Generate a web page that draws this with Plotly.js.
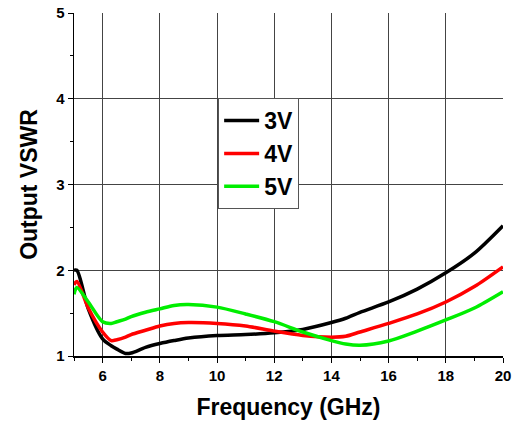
<!DOCTYPE html>
<html><head><meta charset="utf-8">
<script src="https://cdn.plot.ly/plotly-3.0.1.min.js"></script>
<style>html,body{margin:0;padding:0;background:#fff}#c{width:520px;height:428px}</style>
</head><body><div id="c"></div>
<script>
const freq = [5.0, 5.1, 5.5, 6.0, 6.3, 6.5, 6.8, 7.0, 7.5, 8.0, 8.5, 9.0, 10.0, 11.0, 12.0, 13.0, 14.0, 14.5, 15.0, 16.0, 17.0, 18.0, 19.0, 20.0];
const vswr3V = [2.00, 2.00, 1.55, 1.20, 1.12, 1.08, 1.03, 1.035, 1.10, 1.145, 1.18, 1.21, 1.24, 1.25, 1.27, 1.31, 1.39, 1.44, 1.51, 1.63, 1.78, 1.97, 2.20, 2.52];
const vswr4V = [1.83, 1.87, 1.56, 1.28, 1.18, 1.19, 1.22, 1.25, 1.30, 1.35, 1.38, 1.39, 1.38, 1.35, 1.29, 1.24, 1.22, 1.23, 1.28, 1.38, 1.49, 1.63, 1.81, 2.04];
const vswr5V = [1.72, 1.80, 1.63, 1.40, 1.38, 1.40, 1.43, 1.46, 1.51, 1.55, 1.59, 1.60, 1.57, 1.49, 1.40, 1.28, 1.18, 1.14, 1.125, 1.175, 1.29, 1.42, 1.56, 1.75];
const seriesNames = ['3V', '4V', '5V'];
const seriesColors = ['#000000', '#ff0000', '#00ee00'];
const seriesData = [vswr3V, vswr4V, vswr5V];

const FONT = 'Arial, "Liberation Sans", sans-serif';
const traces = seriesData.map((ys, i) => ({
  x: freq, y: ys, type: 'scatter', mode: 'lines', name: seriesNames[i],
  line: {color: seriesColors[i], width: 3.5, shape: 'spline', smoothing: 0.8}
}));

const layout = {
  width: 520, height: 428,
  margin: {l: 74, r: 17, t: 13, b: 72},
  paper_bgcolor: '#fff', plot_bgcolor: '#fff',
  font: {family: FONT, color: '#000', weight: 'bold'},
  showlegend: true,
  legend: {
    x: 0.336, y: 0.752, xanchor: 'left', yanchor: 'top',
    bgcolor: '#fff', bordercolor: '#555', borderwidth: 1,
    font: {family: FONT, size: 23, color: '#000', weight: 'bold'},
    itemwidth: 35, tracegroupgap: 0
  },
  xaxis: {
    range: [5, 20], tick0: 0, dtick: 2,
    ticks: 'outside', ticklen: 5, tickwidth: 1, tickcolor: '#000',
    showline: true, linecolor: '#000', linewidth: 1.5,
    showgrid: true, gridcolor: '#444', gridwidth: 1, zeroline: false,
    tickfont: {family: FONT, size: 15, color: '#000', weight: 'bold'},
    minor: {dtick: 1, ticks: 'outside', ticklen: 3, tickcolor: '#000', showgrid: false},
    title: {text: 'Frequency (GHz)', font: {family: FONT, size: 23, color: '#000', weight: 'bold'}, standoff: 16}
  },
  yaxis: {
    range: [1, 5], tick0: 1, dtick: 1,
    ticks: 'outside', ticklen: 5, tickwidth: 1, tickcolor: '#000',
    showline: true, linecolor: '#000', linewidth: 1.5,
    showgrid: true, gridcolor: '#444', gridwidth: 1, zeroline: false,
    tickfont: {family: FONT, size: 15, color: '#000', weight: 'bold'},
    minor: {dtick: 0.5, ticks: 'outside', ticklen: 3, tickcolor: '#000', showgrid: false},
    title: {text: 'Output VSWR', font: {family: FONT, size: 23, color: '#000', weight: 'bold'}, standoff: 12}
  }
};
Plotly.newPlot('c', traces, layout, {staticPlot: true});
</script></body></html>
